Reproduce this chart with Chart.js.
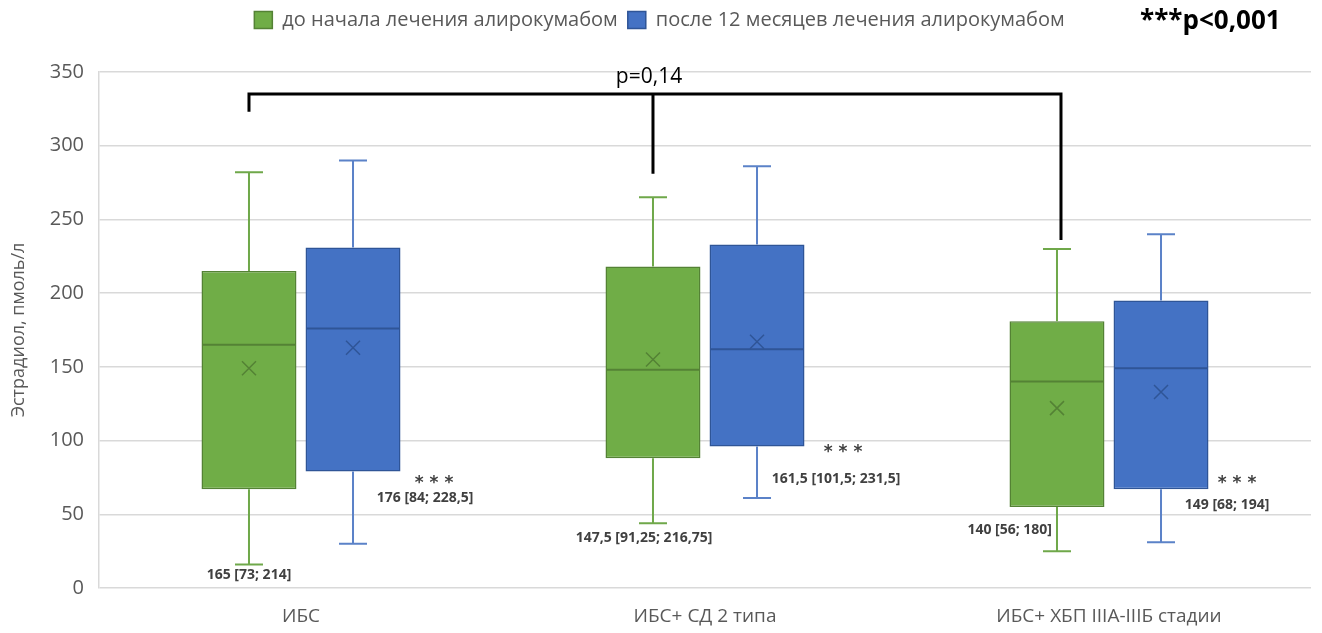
<!DOCTYPE html>
<html>
<head>
<meta charset="utf-8">
<script src="https://cdn.jsdelivr.net/npm/chart.js"></script>
<style>
  html, body { margin: 0; padding: 0; background: #fff; }
  #wrap { width: 1322px; height: 633px; }
</style>
</head>
<body>
<div id="wrap"><canvas id="myChart"></canvas></div>
<script>
// categories
const groups = ['ИБС', 'ИБС+ СД 2 типа', 'ИБС+ ХБП IIIА-IIIБ стадии'];
const seriesNames = ['до начала лечения алирокумабом', 'после 12 месяцев лечения алирокумабом'];

// before treatment (green)
const beforeMin = [16, 44, 25];
const beforeQ1 = [67, 88, 55];
const beforeMedian = [165, 148, 140];
const beforeQ3 = [215, 218, 181];
const beforeMax = [282, 265, 230];
const beforeMean = [149, 155, 122];

// after 12 months (blue)
const afterMin = [30, 61, 31];
const afterQ1 = [79, 96, 67];
const afterMedian = [176, 162, 149];
const afterQ3 = [231, 233, 195];
const afterMax = [290, 286, 240];
const afterMean = [163, 167, 133];

// median [IQR] labels
const beforeText = ['165 [73; 214]', '147,5 [91,25; 216,75]', '140 [56; 180]'];
const afterText = ['176 [84; 228,5]', '161,5 [101,5; 231,5]', '149 [68; 194]'];

// comparison bracket between the "before" boxes
const bracketTop = 335;
const bracketEnds = [323, 281, 236];

const yTicks = [0, 50, 100, 150, 200, 250, 300, 350];

const colors = {
  green: '#70AD47', greenDark: '#548235', greenLine: '#6FA84A',
  blue: '#4472C4', blueDark: '#2F5597', blueLine: '#5B82C8'
};

const boxes = [
  {min: beforeMin, q1: beforeQ1, med: beforeMedian, q3: beforeQ3, max: beforeMax, mean: beforeMean, dark: colors.greenDark, line: colors.greenLine},
  {min: afterMin, q1: afterQ1, med: afterMedian, q3: afterQ3, max: afterMax, mean: afterMean, dark: colors.blueDark, line: colors.blueLine}
];

// whiskers, medians and mean markers on top of the floating bars
const boxExtras = {
  id: 'boxExtras',
  afterDatasetsDraw(chart) {
    const ctx = chart.ctx;
    const y = chart.scales.y;
    ctx.save();
    boxes.forEach((b, di) => {
      chart.getDatasetMeta(di).data.forEach((bar, i) => {
        const x = bar.x, half = bar.width / 2;
        const yMax = y.getPixelForValue(b.max[i]), yQ3 = y.getPixelForValue(b.q3[i]);
        const yMin = y.getPixelForValue(b.min[i]), yQ1 = y.getPixelForValue(b.q1[i]);
        ctx.strokeStyle = b.line;
        ctx.lineWidth = 2;
        ctx.beginPath();
        ctx.moveTo(x, yQ3); ctx.lineTo(x, yMax);
        ctx.moveTo(x - 14, yMax); ctx.lineTo(x + 14, yMax);
        ctx.moveTo(x, yQ1); ctx.lineTo(x, yMin);
        ctx.moveTo(x - 14, yMin); ctx.lineTo(x + 14, yMin);
        ctx.stroke();
        // median
        ctx.strokeStyle = b.dark;
        ctx.beginPath();
        const ym = y.getPixelForValue(b.med[i]);
        ctx.moveTo(x - half + 1, ym); ctx.lineTo(x + half - 1, ym);
        ctx.stroke();
        // mean (x marker)
        const mm = y.getPixelForValue(b.mean[i]);
        ctx.lineWidth = 1.5;
        ctx.beginPath();
        ctx.moveTo(x - 7, mm - 7); ctx.lineTo(x + 7, mm + 7);
        ctx.moveTo(x + 7, mm - 7); ctx.lineTo(x - 7, mm + 7);
        ctx.stroke();
      });
    });
    ctx.restore();
  }
};

// text annotations, significance stars and the p bracket
const annot = {
  id: 'annot',
  afterDatasetsDraw(chart) {
    const ctx = chart.ctx;
    const y = chart.scales.y;
    const g = chart.getDatasetMeta(0).data;
    const bl = chart.getDatasetMeta(1).data;
    const lblFont = 'bold 14px "Open Sans", sans-serif';
    ctx.save();
    ctx.font = lblFont;
    ctx.fillStyle = '#404040';
    ctx.textBaseline = 'middle';
    ctx.textAlign = 'center';
    ctx.fillText(beforeText[0], g[0].x, y.getPixelForValue(9));
    ctx.fillText(beforeText[1], g[1].x - 9, y.getPixelForValue(34));
    ctx.textAlign = 'right';
    ctx.fillText(beforeText[2], g[2].x - 5, y.getPixelForValue(39));
    ctx.textAlign = 'center';
    const offs = [[72, 61, 81, 73], [79, 74, 86, 94], [66, 56, 76, 73]];
    bl.forEach((bar, i) => {
      ctx.font = lblFont;
      ctx.fillText(afterText[i], bar.x + offs[i][0], y.getPixelForValue(offs[i][1]));
      ctx.font = 'bold 17px "DejaVu Sans", sans-serif';
      ctx.fillText('* * *', bar.x + offs[i][2], y.getPixelForValue(offs[i][3]) + 3);
    });
    // bracket
    ctx.strokeStyle = '#000';
    ctx.lineWidth = 3;
    ctx.beginPath();
    const top = y.getPixelForValue(bracketTop);
    ctx.moveTo(g[0].x, y.getPixelForValue(bracketEnds[0]));
    ctx.lineTo(g[0].x, top);
    ctx.lineTo(g[2].x + 4, top);
    ctx.lineTo(g[2].x + 4, y.getPixelForValue(bracketEnds[2]));
    ctx.moveTo(g[1].x, top);
    ctx.lineTo(g[1].x, y.getPixelForValue(bracketEnds[1]));
    ctx.stroke();
    ctx.font = '21px "Open Sans", sans-serif';
    ctx.fillStyle = '#000';
    ctx.textAlign = 'center';
    ctx.textBaseline = 'middle';
    ctx.fillText('p=0,14', g[1].x - 4, top - 17);
    // overall p
    ctx.font = 'bold 26px "Open Sans", sans-serif';
    ctx.textAlign = 'left';
    ctx.fillText('***p<0,001', 1140, 22);
    ctx.restore();
  }
};

// reserve room under the legend so the plot starts lower
const legendGap = {
  id: 'legendGap',
  beforeLayout(chart) {
    const lg = chart.legend;
    if (lg && !lg._gapPatched) {
      const fit = lg.fit;
      lg.fit = function () { fit.call(this); this.height = 72; };
      lg._gapPatched = true;
    }
  }
};

Chart.defaults.font.family = '"Open Sans", sans-serif';
Chart.defaults.color = '#595959';

new Chart(document.getElementById('myChart'), {
  type: 'bar',
  data: {
    labels: groups,
    datasets: [
      {
        label: seriesNames[0],
        data: beforeQ1.map((q, i) => [q, beforeQ3[i]]),
        backgroundColor: colors.green,
        borderColor: colors.greenDark,
        borderWidth: 1.5,
        borderSkipped: false
      },
      {
        label: seriesNames[1],
        data: afterQ1.map((q, i) => [q, afterQ3[i]]),
        backgroundColor: colors.blue,
        borderColor: colors.blueDark,
        borderWidth: 1.5,
        borderSkipped: false
      }
    ]
  },
  options: {
    responsive: true,
    maintainAspectRatio: false,
    animation: false,
    categoryPercentage: 0.515,
    barPercentage: 0.913,
    layout: { padding: { left: 8, right: 11, top: 0, bottom: 0 } },
    scales: {
      x: {
        grid: { display: false, drawTicks: false },
        border: { display: false },
        ticks: { font: { size: 19 }, padding: 17, color: '#595959' },
        afterFit(scale) { scale.height = 45; }
      },
      y: {
        min: 0,
        max: 350,
        afterBuildTicks(scale) { scale.ticks = yTicks.map(v => ({ value: v })); },
        grid: { color: '#D9D9D9', lineWidth: 1.5, drawTicks: false },
        border: { display: true, color: '#D9D9D9', width: 1.5 },
        ticks: { font: { size: 20 }, padding: 15, color: '#595959' },
        title: { display: true, text: 'Эстрадиол, пмоль/л', font: { size: 18 }, color: '#595959', padding: 0 },
        afterFit(scale) { scale.width = 91; }
      }
    },
    plugins: {
      legend: {
        position: 'top',
        labels: { font: { size: 20 }, boxWidth: 18, boxHeight: 17, padding: 10, color: '#595959' }
      },
      tooltip: { enabled: false }
    }
  },
  plugins: [legendGap, boxExtras, annot]
});
</script>
</body>
</html>
